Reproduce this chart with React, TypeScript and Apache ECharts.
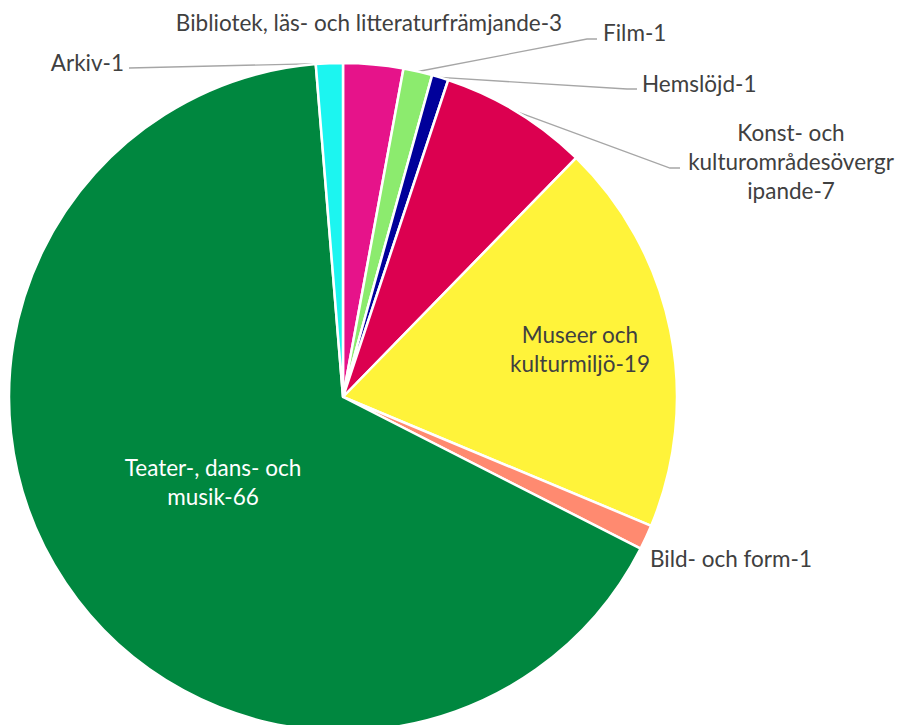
import { useEffect, useRef } from "react";
import * as echarts from "echarts";

const categories = [
  "Bibliotek, läs- och litteraturfrämjande",
  "Film",
  "Hemslöjd",
  "Konst- och kulturområdesövergripande",
  "Museer och kulturmiljö",
  "Bild- och form",
  "Teater-, dans- och musik",
  "Arkiv",
];
const labelNames = [
  "Bibliotek, läs- och litteraturfrämjande",
  "Film",
  "Hemslöjd",
  "Konst- och\nkulturområdesövergr\nipande",
  "Museer och\nkulturmiljö",
  "Bild- och form",
  "Teater-, dans- och\nmusik",
  "Arkiv",
];
const values = [2.9, 1.4, 0.8, 7.2, 19.0, 1.2, 66.2, 1.3];
const colors = ["#E6138A", "#8CEB6E", "#00009A", "#DC0050", "#FFF33A", "#FF8A70", "#00873F", "#1CF5F0"];

// label anchor placement (label layout only)
const labelPlace: { x: number; y: number; align: string; line?: number[][] }[] = [
  { x: 369, y: 22, align: "center" },
  { x: 603, y: 32, align: "left", line: [[587, 39], [597, 39]] },
  { x: 642, y: 83, align: "left", line: [[627, 89], [637, 89]] },
  { x: 791, y: 161, align: "center", line: [[670, 168], [680, 168]] },
  { x: 580, y: 349, align: "center" },
  { x: 650, y: 558, align: "left" },
  { x: 213, y: 482, align: "center" },
  { x: 124, y: 62, align: "right", line: [[129, 68]] },
];

export default function App() {
  const ref = useRef<HTMLDivElement>(null);
  useEffect(() => {
    if (!ref.current) return;
    const chart = echarts.init(ref.current, undefined, { renderer: "svg" });
    const data = categories.map((name, i) => {
      const item: any = { name, value: values[i], itemStyle: { color: colors[i] } };
      if (i === 4) item.label = { position: "inside", color: "#404040" };
      if (i === 6) item.label = { position: "inside", color: "#FFFFFF" };
      if (i === 0 || i === 5 || i === 4 || i === 6) item.labelLine = { show: false };
      return item;
    });
    chart.setOption({
      animation: false,
      backgroundColor: "#FFFFFF",
      series: [
        {
          type: "pie",
          center: [343, 397],
          radius: 334,
          startAngle: 90,
          clockwise: true,
          avoidLabelOverlap: false,
          data,
          itemStyle: { borderColor: "#FFFFFF", borderWidth: 2.5 },
          label: {
            show: true,
            position: "outside",
            color: "#404040",
            fontFamily: "Lato",
            fontSize: 22.5,
            lineHeight: 29,
            formatter: (p: any) => `${labelNames[p.dataIndex]}-${Math.round(p.value)}`,
          },
          labelLine: { show: true, lineStyle: { color: "#A6A6A6", width: 1.3 }, length: 10, length2: 10 },
          labelLayout: (params: any) => {
            const pl = labelPlace[params.dataIndex];
            const out: any = { x: pl.x, y: pl.y, align: pl.align, verticalAlign: "middle" };
            if (pl.line && params.labelLinePoints) {
              const p0 = params.labelLinePoints[0];
              out.labelLinePoints = [p0, ...pl.line];
            }
            return out;
          },
        },
      ],
    });
    return () => chart.dispose();
  }, []);
  return (
    <div
      ref={ref}
      style={{ position: "fixed", left: 0, top: 0, width: 905, height: 725 }}
    />
  );
}
